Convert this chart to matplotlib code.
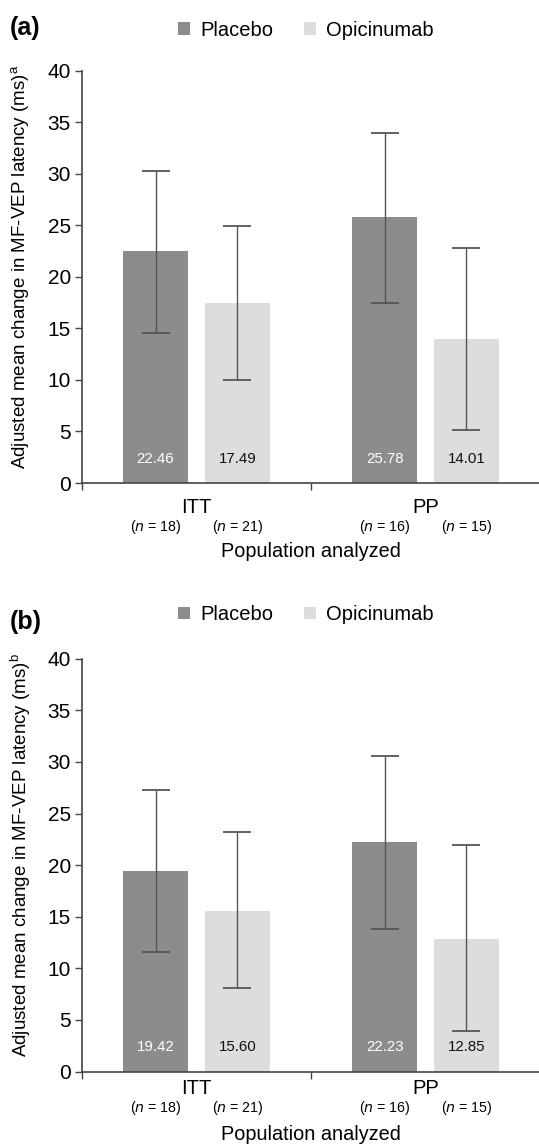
import matplotlib
matplotlib.use("Agg")
import matplotlib.pyplot as plt
from matplotlib.transforms import blended_transform_factory
import numpy as np

plt.rcParams['font.family'] = ['Liberation Sans', 'DejaVu Sans']

categories = ["ITT", "PP"]
series = ["Placebo", "Opicinumab"]

# Panel (a)
a_placebo = [22.46, 25.78]
a_opic = [17.49, 14.01]
a_placebo_lo = [14.6, 17.5]
a_placebo_hi = [30.3, 34.0]
a_opic_lo = [10.0, 5.1]
a_opic_hi = [24.9, 22.8]

# Panel (b)
b_placebo = [19.42, 22.23]
b_opic = [15.60, 12.85]
b_placebo_lo = [11.6, 13.8]
b_placebo_hi = [27.3, 30.6]
b_opic_lo = [8.1, 3.9]
b_opic_hi = [23.2, 21.9]

n_placebo = [18, 16]
n_opic = [21, 15]

yticks = [0, 5, 10, 15, 20, 25, 30, 35, 40]

c_placebo = "#8c8c8c"
c_opic = "#dcdddc"
W, H = 539, 1145

fig = plt.figure(figsize=(W / 100, H / 100), dpi=100)


def panel(rect, placebo, opic, plo, phi, olo, ohi, letter, sup, leg_y, letter_y, cat_y, n_y, pop_y):
    ax = fig.add_axes(rect)
    x = np.arange(len(categories))
    off = 0.179
    w = 0.284
    b1 = ax.bar(x - off, placebo, w, color=c_placebo, label=series[0], zorder=2)
    b2 = ax.bar(x + off, opic, w, color=c_opic, label=series[1], zorder=2)
    perr = [np.array(placebo) - np.array(plo), np.array(phi) - np.array(placebo)]
    oerr = [np.array(opic) - np.array(olo), np.array(ohi) - np.array(opic)]
    ax.errorbar(x - off, placebo, yerr=perr, fmt='none', ecolor='#555555',
                elinewidth=1.0, capsize=10, capthick=1.3, zorder=3)
    ax.errorbar(x + off, opic, yerr=oerr, fmt='none', ecolor='#555555',
                elinewidth=1.0, capsize=10, capthick=1.3, zorder=3)
    for i in range(len(categories)):
        ax.text(x[i] - off, 2.33, f"{placebo[i]:.2f}", ha='center', va='center',
                color='white', fontsize=10.8, zorder=4)
        ax.text(x[i] + off, 2.33, f"{opic[i]:.2f}", ha='center', va='center',
                color='#111111', fontsize=10.8, zorder=4)
    ax.set_xlim(-0.5, 1.5)
    ax.set_ylim(0, 40)
    ax.set_yticks(yticks)
    ax.tick_params(axis='y', labelsize=15, length=5, width=1, color='#444444', pad=3)
    ax.set_xticks([-0.5, 0.5, 1.5])
    ax.set_xticklabels([])
    ax.tick_params(axis='x', length=5, width=1, color='#444444')
    for s in ['top', 'right']:
        ax.spines[s].set_visible(False)
    for s in ['left', 'bottom']:
        ax.spines[s].set_color('#444444')
        ax.spines[s].set_linewidth(1.2)
    tr = blended_transform_factory(ax.transData, fig.transFigure)
    for i, c in enumerate(categories):
        ax.text(x[i], 1 - cat_y / H, c, transform=tr, ha='center', va='center', fontsize=14.5)
        ax.text(x[i] - off, 1 - n_y / H, f"($n$ = {n_placebo[i]})", transform=tr,
                ha='center', va='center', fontsize=10.2)
        ax.text(x[i] + off, 1 - n_y / H, f"($n$ = {n_opic[i]})", transform=tr,
                ha='center', va='center', fontsize=10.2)
    ax.text(0.5, 1 - pop_y / H, "Population analyzed", transform=tr, ha='center',
            va='center', fontsize=14.3)
    trl = blended_transform_factory(fig.transFigure, ax.transAxes)
    ax.text(21 / W, 0.525, f"Adjusted mean change in MF-VEP latency (ms)$^{{\\mathregular{{{sup}}}}}$",
            transform=trl, rotation=90, ha='center', va='center', fontsize=13.5)
    fig.text(10 / W, 1 - letter_y / H, f"({letter})", fontsize=18, fontweight='bold',
             ha='left', va='center')
    fig.legend(handles=[b1, b2], loc='center', bbox_to_anchor=(306 / W, 1 - leg_y / H),
               ncol=2, frameon=False, fontsize=14.5, handlelength=0.6, handleheight=0.6,
               handletextpad=0.5, columnspacing=1.55, borderaxespad=0)
    return ax


panel([82 / W, 1 - 483 / H, 458 / W, 412.3 / H], a_placebo, a_opic, a_placebo_lo,
      a_placebo_hi, a_opic_lo, a_opic_hi, 'a', 'a', 30, 27.5, 507.6, 526.5, 552)
panel([82 / W, 1 - 1071.5 / H, 458 / W, 412.8 / H], b_placebo, b_opic, b_placebo_lo,
      b_placebo_hi, b_opic_lo, b_opic_hi, 'b', 'b', 614.7, 621.5, 1089, 1108, 1134)

fig.savefig("out.png", dpi=100)
